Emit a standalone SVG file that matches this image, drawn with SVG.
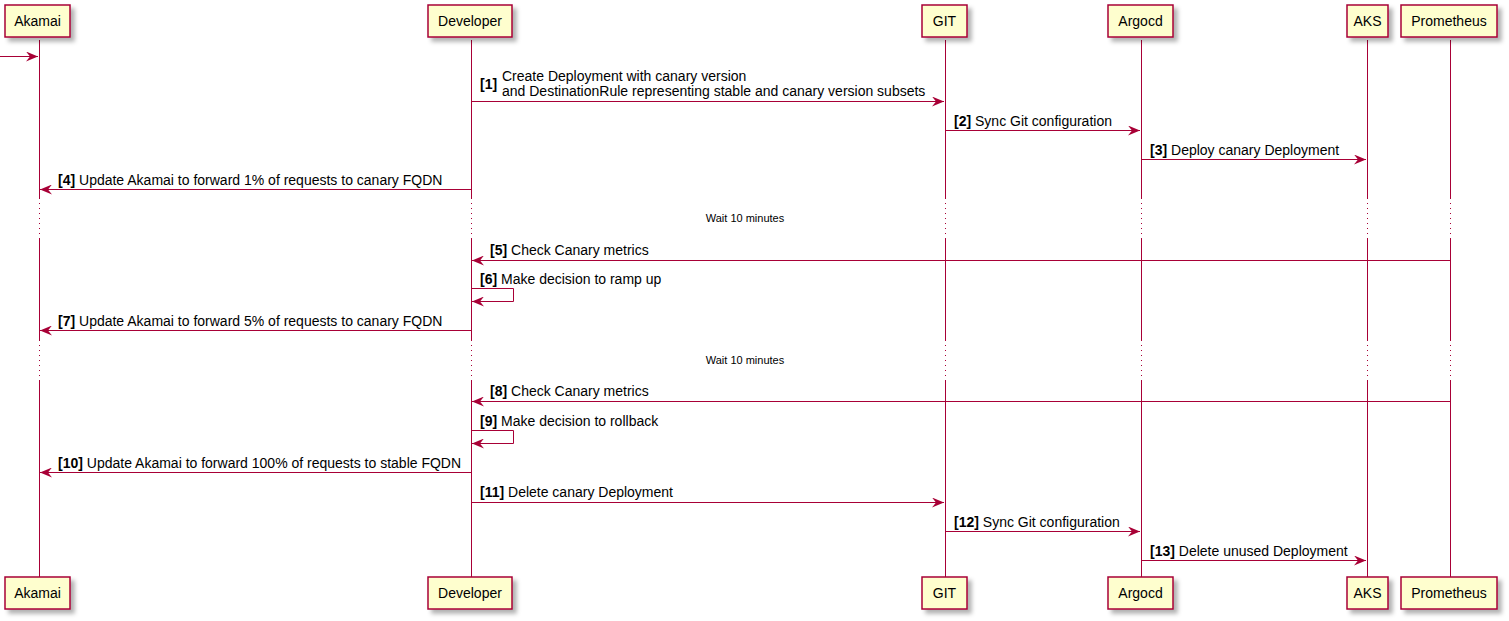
<svg xmlns="http://www.w3.org/2000/svg" width="1509" height="621" viewBox="0 0 1509 621">
<style>
.box{fill:#FEFECE;stroke:#A80036;stroke-width:1.5;filter:url(#sh)}
.pt{font-family:"Liberation Sans",Arial,sans-serif;font-size:14px;fill:#000;text-anchor:middle}
.life{stroke:#A80036;stroke-width:1;fill:none}
.dot{stroke:#A80036;stroke-width:1;stroke-dasharray:1,4;fill:none}
.msg{stroke:#A80036;stroke-width:1;fill:none}
.lb{font-family:"Liberation Sans",Arial,sans-serif;font-size:14px;fill:#000}
.lb tspan.n{font-weight:bold}
.dl{font-family:"Liberation Sans",Arial,sans-serif;font-size:11px;fill:#000;text-anchor:middle}
</style>
<defs>
<filter id="sh" x="-20%" y="-20%" width="150%" height="160%">
<feDropShadow dx="4" dy="4" stdDeviation="2" flood-color="#000" flood-opacity="0.3"/>
</filter>
<marker id="arr" viewBox="0 0 12 10" refX="12" refY="5" markerWidth="12" markerHeight="10" markerUnits="userSpaceOnUse" orient="auto">
<polygon points="0,0 12,5 0,10 4,5" fill="#A80036"/>
</marker>
</defs>
<rect width="1509" height="621" fill="#fff"/>
<g id="lifelines">
<path class="life" d="M39.5,40 V198 M39.5,238 V340 M39.5,380 V577"/>
<path class="dot" d="M39.5,198 V238 M39.5,340 V380"/>
<path class="life" d="M471.5,40 V198 M471.5,238 V340 M471.5,380 V577"/>
<path class="dot" d="M471.5,198 V238 M471.5,340 V380"/>
<path class="life" d="M945.5,40 V198 M945.5,238 V340 M945.5,380 V577"/>
<path class="dot" d="M945.5,198 V238 M945.5,340 V380"/>
<path class="life" d="M1141.5,40 V198 M1141.5,238 V340 M1141.5,380 V577"/>
<path class="dot" d="M1141.5,198 V238 M1141.5,340 V380"/>
<path class="life" d="M1367.5,40 V198 M1367.5,238 V340 M1367.5,380 V577"/>
<path class="dot" d="M1367.5,198 V238 M1367.5,340 V380"/>
<path class="life" d="M1450.5,40 V198 M1450.5,238 V340 M1450.5,380 V577"/>
<path class="dot" d="M1450.5,198 V238 M1450.5,340 V380"/>
</g>
<g id="p-akamai">
<rect class="box" x="5" y="5" width="65" height="32"/><text class="pt" x="37.5" y="26">Akamai</text>
<rect class="box" x="5" y="577" width="65" height="32"/><text class="pt" x="37.5" y="598">Akamai</text>
</g>
<g id="p-developer">
<rect class="box" x="428" y="5" width="84" height="32"/><text class="pt" x="470" y="26">Developer</text>
<rect class="box" x="428" y="577" width="84" height="32"/><text class="pt" x="470" y="598">Developer</text>
</g>
<g id="p-git">
<rect class="box" x="922" y="5" width="45" height="32"/><text class="pt" x="944.5" y="26">GIT</text>
<rect class="box" x="922" y="577" width="45" height="32"/><text class="pt" x="944.5" y="598">GIT</text>
</g>
<g id="p-argocd">
<rect class="box" x="1108" y="5" width="65" height="32"/><text class="pt" x="1140.5" y="26">Argocd</text>
<rect class="box" x="1108" y="577" width="65" height="32"/><text class="pt" x="1140.5" y="598">Argocd</text>
</g>
<g id="p-aks">
<rect class="box" x="1347" y="5" width="41" height="32"/><text class="pt" x="1367.5" y="26">AKS</text>
<rect class="box" x="1347" y="577" width="41" height="32"/><text class="pt" x="1367.5" y="598">AKS</text>
</g>
<g id="p-prometheus">
<rect class="box" x="1401" y="5" width="96" height="32"/><text class="pt" x="1449" y="26">Prometheus</text>
<rect class="box" x="1401" y="577" width="96" height="32"/><text class="pt" x="1449" y="598">Prometheus</text>
</g>
<g id="connectors">
<path class="msg" marker-end="url(#arr)" d="M0,56.5 H38"/>
<path class="msg" marker-end="url(#arr)" d="M471.5,101.5 H944"/>
<path class="msg" marker-end="url(#arr)" d="M945.5,130.5 H1140"/>
<path class="msg" marker-end="url(#arr)" d="M1141.5,159.5 H1366"/>
<path class="msg" marker-end="url(#arr)" d="M471.5,189.5 H40"/>
<path class="msg" marker-end="url(#arr)" d="M1450.5,260.5 H472"/>
<path class="msg" marker-end="url(#arr)" d="M471.5,288.5 H513.5 V301.5 H472"/>
<path class="msg" marker-end="url(#arr)" d="M471.5,330.5 H40"/>
<path class="msg" marker-end="url(#arr)" d="M1450.5,401.5 H472"/>
<path class="msg" marker-end="url(#arr)" d="M471.5,430.5 H513.5 V443.5 H472"/>
<path class="msg" marker-end="url(#arr)" d="M471.5,472.5 H40"/>
<path class="msg" marker-end="url(#arr)" d="M471.5,502.5 H944"/>
<path class="msg" marker-end="url(#arr)" d="M945.5,531.5 H1140"/>
<path class="msg" marker-end="url(#arr)" d="M1141.5,560.5 H1366"/>
</g>
<g id="labels">
<text class="lb" x="480" y="89" font-weight="bold">[1]</text>
<text class="lb" x="502" y="81">Create Deployment with canary version</text>
<text class="lb" x="502" y="96">and DestinationRule representing stable and canary version subsets</text>
<text class="lb" x="954" y="126"><tspan class="n">[2]</tspan> Sync Git configuration</text>
<text class="lb" x="1150" y="155"><tspan class="n">[3]</tspan> Deploy canary Deployment</text>
<text class="lb" x="58" y="185"><tspan class="n">[4]</tspan> Update Akamai to forward 1% of requests to canary FQDN</text>
<text class="dl" x="745" y="222">Wait 10 minutes</text>
<text class="lb" x="490" y="255"><tspan class="n">[5]</tspan> Check Canary metrics</text>
<text class="lb" x="480" y="284"><tspan class="n">[6]</tspan> Make decision to ramp up</text>
<text class="lb" x="58" y="326"><tspan class="n">[7]</tspan> Update Akamai to forward 5% of requests to canary FQDN</text>
<text class="dl" x="745" y="364">Wait 10 minutes</text>
<text class="lb" x="490" y="396"><tspan class="n">[8]</tspan> Check Canary metrics</text>
<text class="lb" x="480" y="426"><tspan class="n">[9]</tspan> Make decision to rollback</text>
<text class="lb" x="58" y="468"><tspan class="n">[10]</tspan> Update Akamai to forward 100% of requests to stable FQDN</text>
<text class="lb" x="480" y="497"><tspan class="n">[11]</tspan> Delete canary Deployment</text>
<text class="lb" x="954" y="527"><tspan class="n">[12]</tspan> Sync Git configuration</text>
<text class="lb" x="1150" y="556"><tspan class="n">[13]</tspan> Delete unused Deployment</text>
</g>
</svg>
